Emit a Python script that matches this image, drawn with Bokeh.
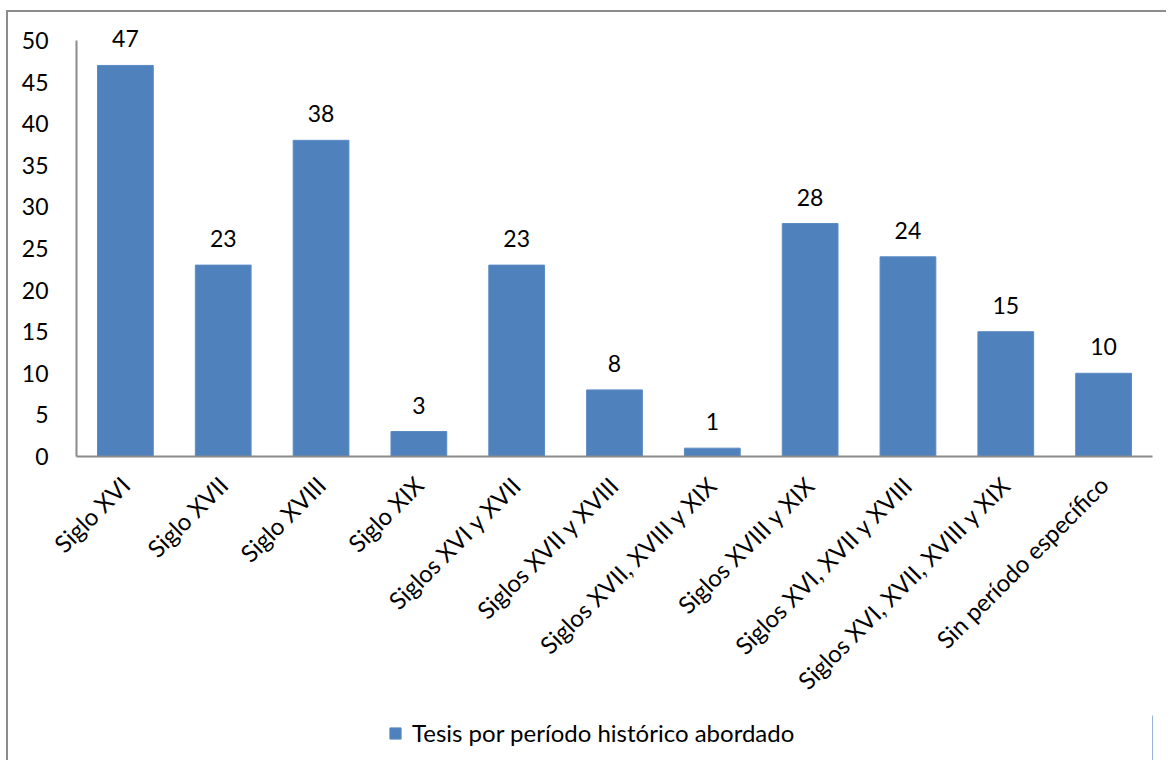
from bokeh.plotting import figure
from bokeh.layouts import column
from bokeh.models import (ColumnDataSource, FactorRange, Range1d, FixedTicker, Legend, LegendItem,
                          LabelSet)
from bokeh.core.properties import value
from bokeh.embed import file_html
from bokeh.resources import INLINE
import math

categories = ["Siglo XVI", "Siglo XVII", "Siglo XVIII", "Siglo XIX", "Siglos XVI y XVII",
              "Siglos XVII y XVIII", "Siglos XVII, XVIII y XIX", "Siglos XVIII y XIX",
              "Siglos XVI, XVII y XVIII", "Siglos XVI, XVII, XVIII y XIX", "Sin período específico"]
counts = [47, 23, 38, 3, 23, 8, 1, 28, 24, 15, 10]
series_name = "Tesis por período histórico abordado"
y_ticks = [0, 5, 10, 15, 20, 25, 30, 35, 40, 45, 50]

FONT = "Lato"
BLUE = "#4F81BD"
EDGE = "#5a8ac4"
AXIS = "#8a8a8a"
BORDER = "2px solid #8c8c8c"

src = ColumnDataSource(dict(cat=categories, val=counts, lab=[str(v) for v in counts]))

# chart: frame extends a little above 50 so the "47" label is not clipped; axis line stops at 50
fig = figure(width=1160, height=705, output_backend="svg", toolbar_location=None,
             x_range=FactorRange(*categories, range_padding=0), y_range=Range1d(0, 52.76),
             min_border_left=68, min_border_top=5, min_border_right=16, min_border_bottom=261,
             styles={"border-left": BORDER, "border-top": BORDER,
                     "margin-left": "6px", "margin-top": "10px"})
fig.outline_line_color = None
fig.xgrid.grid_line_color = None
fig.ygrid.grid_line_color = None
fig.background_fill_color = "white"
fig.border_fill_color = "white"

fig.vbar(x="cat", top="val", width=0.57, source=src, fill_color=BLUE, line_color=EDGE, line_width=1)
labels = LabelSet(x="cat", y="val", text="lab", source=src, text_align="center", text_baseline="alphabetic",
                  y_offset=18, text_font=value(FONT), text_font_size="23px", text_color="black")
fig.add_layout(labels)

fig.yaxis.ticker = FixedTicker(ticks=y_ticks)
fig.yaxis.bounds = (0, 50)
for ax in (fig.xaxis[0], fig.yaxis[0]):
    ax.axis_line_color = AXIS
    ax.axis_line_width = 2
    ax.major_tick_line_color = None
    ax.minor_tick_line_color = None
    ax.major_label_text_font = FONT
    ax.major_label_text_color = "black"
fig.yaxis.major_label_text_font_size = "23px"
fig.yaxis.major_label_standoff = 22
fig.xaxis.major_label_text_font_size = "24px"
fig.xaxis.major_label_orientation = math.pi / 4
fig.xaxis.major_label_standoff = 18

# legend strip below the chart
leg = figure(width=1160, height=45, output_backend="svg", toolbar_location=None,
             x_range=Range1d(0, 1), y_range=Range1d(0, 1),
             x_axis_location=None, y_axis_location=None,
             min_border_left=0, min_border_right=0, min_border_top=0, min_border_bottom=0,
             styles={"border-left": BORDER, "margin-left": "6px"})
leg.outline_line_color = None
leg.xgrid.grid_line_color = None
leg.ygrid.grid_line_color = None
leg.border_fill_color = "white"
leg.background_fill_color = "white"
# swatch renderer sits outside the visible range; only its legend glyph shows
swatch_src = ColumnDataSource(dict(x=[5.0], top=[1.0]))
swatch = leg.vbar(x="x", top="top", width=0.5, source=swatch_src, fill_color=BLUE, line_color=EDGE, line_width=1)
legend = Legend(items=[LegendItem(label=series_name, renderers=[swatch])], location=(312, 13),
                label_text_font=FONT, label_text_font_size="24px", label_text_color="black",
                glyph_width=14, glyph_height=14,
                label_standoff=10, padding=0, margin=0, border_line_color=None,
                background_fill_alpha=0)
leg.add_layout(legend, "center")

p = column(fig, leg, spacing=0)
open("out.html", "w").write(file_html(p, INLINE))
